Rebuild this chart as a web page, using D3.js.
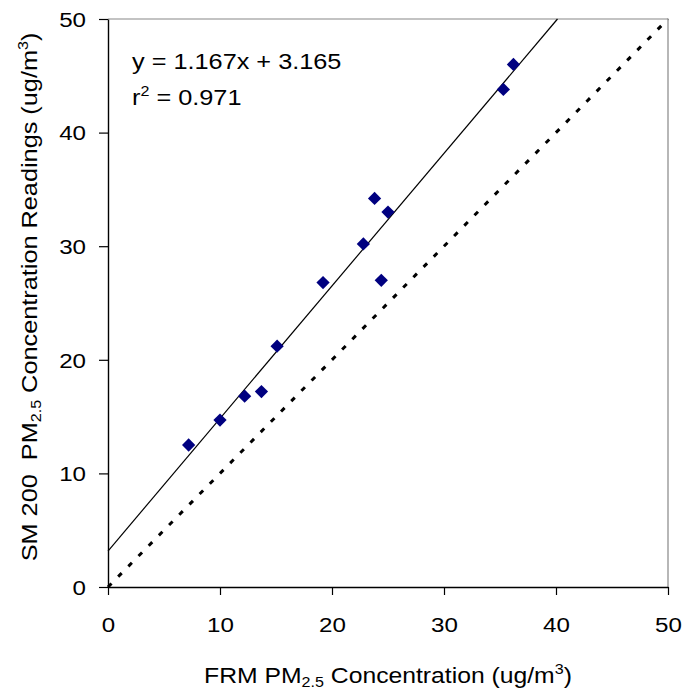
<!DOCTYPE html>
<html>
<head>
<meta charset="utf-8">
<script src="https://cdn.jsdelivr.net/npm/d3@7/dist/d3.min.js"></script>
<style>
  body { margin: 0; background: #fff; }
  svg { font-family: "Liberation Sans", Arial, sans-serif; }
  .pre { white-space: pre; }
</style>
</head>
<body>
<svg width="682" height="694"></svg>
<script>
// FRM reference vs SM 200 readings
const frmValues = [7.2, 10.0, 12.2, 13.7, 15.1, 19.2, 22.8, 23.8, 25.0, 24.4, 35.3, 36.2];
const smValues = [12.5, 14.7, 16.8, 17.2, 21.2, 26.8, 30.2, 34.2, 33.0, 27.0, 43.8, 46.0];
const xTicks = [0, 10, 20, 30, 40, 50];
const yTicks = [0, 10, 20, 30, 40, 50];
const fitSlope = 1.167;
const fitIntercept = 3.165;

const svg = d3.select('svg');
const margin = { top: 19, right: 14, bottom: 107, left: 108 };
const width = 682, height = 694;
const innerWidth = width - margin.left - margin.right;
const innerHeight = height - margin.top - margin.bottom;
const stretch = 1.15;   // the original text is a bit wider than Arial

const xScale = d3.scaleLinear().domain([0, 50]).range([0, innerWidth]);
const yScale = d3.scaleLinear().domain([0, 50]).range([innerHeight, 0]);

const g = svg.append('g').attr('transform', `translate(${margin.left},${margin.top})`);

// plot area border (top + right in grey)
g.append('path')
    .attr('d', `M0,0H${innerWidth}V${innerHeight}`)
    .attr('fill', 'none')
    .attr('stroke', '#888')
    .attr('stroke-width', 1.2);

// ======================= AXES ===============================
const xAxis = g.append('g')
    .attr('transform', `translate(0,${innerHeight})`)
    .call(d3.axisBottom(xScale).tickValues(xTicks).tickSizeInner(8).tickSizeOuter(0));

const yAxis = g.append('g')
    .call(d3.axisLeft(yScale).tickValues(yTicks).tickSizeInner(9).tickSizeOuter(0));

[xAxis, yAxis].forEach(ax => {
    ax.selectAll('path.domain').attr('stroke', '#000').attr('stroke-width', 1.4);
    ax.selectAll('.tick line').attr('stroke', '#000').attr('stroke-width', 1.2);
    ax.selectAll('.tick text').attr('font-size', 21).attr('fill', '#000')
        .attr('font-family', '"Liberation Sans", Arial, sans-serif');
});
xAxis.selectAll('.tick text')
    .attr('y', 0).attr('dy', '0.71em')
    .attr('transform', `translate(0,30) scale(${stretch},1)`);
yAxis.selectAll('.tick text')
    .attr('x', 0).attr('dy', '0.35em')
    .attr('transform', `translate(-22,0) scale(${stretch},1)`);

// ======================= LINES ===============================
// 1:1 line
g.append('line')
    .attr('x1', xScale(0)).attr('y1', yScale(0))
    .attr('x2', xScale(50)).attr('y2', yScale(50))
    .attr('stroke', '#000')
    .attr('stroke-width', 3)
    .attr('stroke-dasharray', '5,9.5');

// regression line, clipped at the top of the plot
const xEnd = (50 - fitIntercept) / fitSlope;
g.append('line')
    .attr('x1', xScale(0)).attr('y1', yScale(fitIntercept))
    .attr('x2', xScale(xEnd)).attr('y2', yScale(50))
    .attr('stroke', '#000')
    .attr('stroke-width', 1.2);

// ======================= POINTS ===============================
const diamond = d3.symbol().type(d3.symbolSquare).size(88);
g.append('g')
    .selectAll('path')
    .data(frmValues.map((d, i) => [d, smValues[i]]))
    .enter()
    .append('path')
    .attr('d', diamond)
    .attr('transform', d => `translate(${xScale(d[0])},${yScale(d[1])}) rotate(45)`)
    .attr('fill', '#000080');

// ======================= TEXT ===============================
const eq = svg.append('g').attr('font-size', 22).attr('fill', '#000');
eq.append('text')
    .attr('transform', `translate(132,69) scale(${stretch},1)`)
    .text(`y = ${fitSlope}x + ${fitIntercept}`);
const r2 = eq.append('text').attr('transform', `translate(132,105) scale(${stretch},1)`);
r2.append('tspan').text('r');
r2.append('tspan').attr('font-size', 14).attr('dy', -9).text('2');
r2.append('tspan').attr('dy', 9).text(' = 0.971');

const xTitle = svg.append('text')
    .attr('transform', `translate(388,683) scale(${stretch},1)`)
    .attr('text-anchor', 'middle')
    .attr('font-size', 21.5);
xTitle.append('tspan').text('FRM PM');
xTitle.append('tspan').attr('font-size', 14).attr('dy', 4).text('2.5');
xTitle.append('tspan').attr('dy', -4).text(' Concentration (ug/m');
xTitle.append('tspan').attr('font-size', 14).attr('dy', -9).text('3');
xTitle.append('tspan').attr('dy', 9).text(')');

const yTitle = svg.append('text')
    .attr('class', 'pre')
    .attr('transform', `translate(37,297) rotate(-90) scale(${stretch},1)`)
    .attr('text-anchor', 'middle')
    .attr('font-size', 22);
yTitle.append('tspan').text('SM 200  PM');
yTitle.append('tspan').attr('font-size', 14).attr('dy', 4).text('2.5');
yTitle.append('tspan').attr('dy', -4).text(' Concentration Readings (ug/m');
yTitle.append('tspan').attr('font-size', 14).attr('dy', -9).text('3');
yTitle.append('tspan').attr('dy', 9).text(')');
</script>
</body>
</html>
